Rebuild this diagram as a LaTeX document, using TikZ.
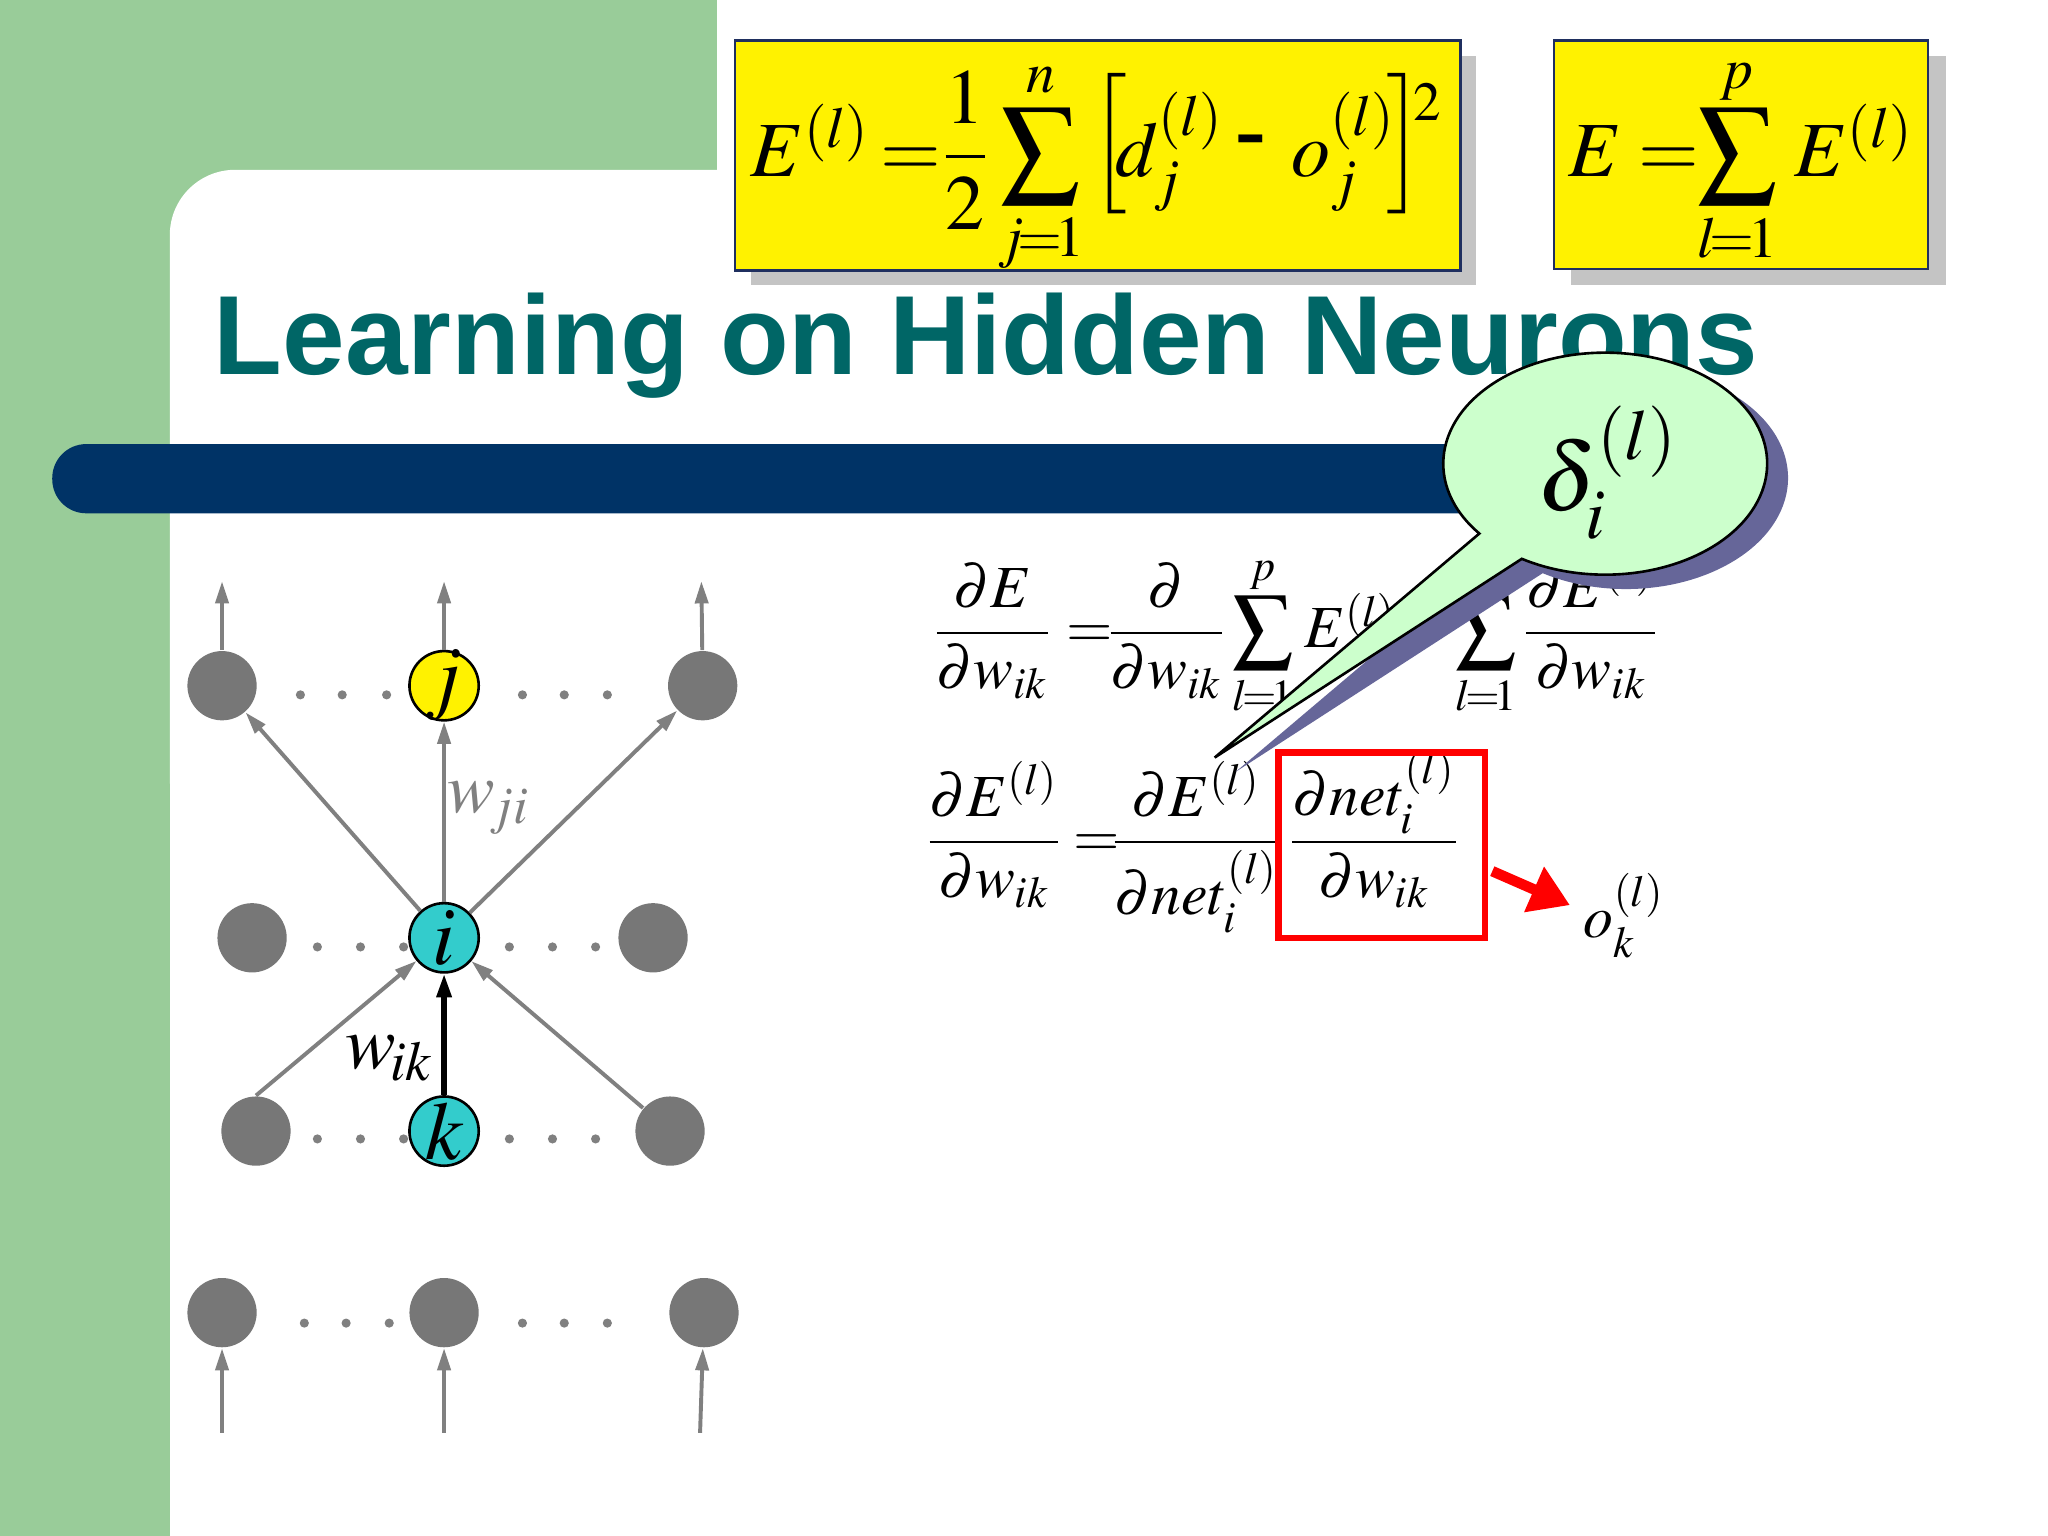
\documentclass[tikz,border=0pt]{standalone}
\usepackage{mathptmx}
\usepackage[no-math]{fontspec}
\newfontfamily\titlefont{Liberation Sans}
\newfontfamily\hyphfont{Liberation Serif}
\usetikzlibrary{arrows.meta,calc}
\definecolor{bggreen}{HTML}{99CC99}
\definecolor{barnavy}{HTML}{003366}
\definecolor{titleteal}{HTML}{006666}
\definecolor{bubgreen}{HTML}{CCFFCC}
\definecolor{bubshadow}{HTML}{666699}
\definecolor{nodegray}{HTML}{777777}
\definecolor{linegray}{HTML}{808080}
\definecolor{icyan}{HTML}{33CCCC}
\definecolor{boxborder}{HTML}{1F2F5F}
\definecolor{shadowgray}{HTML}{C4C4C4}
\tikzset{
  gnode/.style={circle, fill=nodegray, minimum size=0.53cm, inner sep=0},
  cnode/.style={circle, fill=icyan, draw=black, line width=0.02cm, minimum size=0.53cm, inner sep=0},
  ynode/.style={cnode, fill=yellow},
  nlabel/.style={font=\fontsize{18}{20}\selectfont, inner sep=0},
  garrow/.style={draw=linegray, line width=0.03cm, -{Triangle[length=0.17cm,width=0.1cm]}},
  karrow/.style={draw=black, line width=0.04cm, -{Triangle[length=0.18cm,width=0.11cm]}},
  ybox/.style={draw=boxborder, line width=0.018cm, fill=yellow, inner sep=0},
  bt/.style={inner sep=0, anchor=base, font=\fontsize{17}{20}\selectfont},
  et/.style={inner sep=0, anchor=base, font=\fontsize{13}{16}\selectfont},
}
\begin{document}
\begin{tikzpicture}[x=0.01cm,y=-0.01cm]
\useasboundingbox (0,0) rectangle (1568,1176);
% background
\fill[white] (0,0) rectangle (1568,1176);
\fill[bggreen] (0,0) rectangle (549,130);
\fill[bggreen] (0,0) rectangle (130,1176);
\fill[bggreen] (130,130) rectangle (250,250);
\fill[white] (130,600) [rounded corners=0.5cm] -- (130,130) -- (600,130) [sharp corners] -- (600,600) -- cycle;
% box shadows
\fill[shadowgray] (575,43) rectangle (1130,218);
\fill[shadowgray] (1203,43) rectangle (1490,218);
% title
\node[anchor=base west, inner sep=0, text=titleteal, font=\titlefont\bfseries\fontsize{24.5}{28}\selectfont] (title) at (163,287) {Learning on Hidden Neurons};
% bar
\fill[barnavy, rounded corners=0.26cm] (40,340) rectangle (1170,393);
% yellow box 1
\node[ybox, minimum width=5.55cm, minimum height=1.76cm] (box1) at (840.5,119) {};
\node[bt, anchor=base west] (b1e) at (574,135) {$E^{(l)}$};
\node[bt] (b1eq) at (697,135) {$=$};
\node[bt] (b1half) at (739,135) {$\displaystyle\frac{1}{2}$};
\node[bt] (b1sum) at (797,135) {$\displaystyle\sum_{j\!=\!1}^{n}$};
\node[bt, anchor=center] (b1lb) at (849,110) {$\Bigl[$};
\node[bt, anchor=base west] (b1d) at (853,135) {$d_j^{(l)}$};
\node[bt, anchor=center, font=\hyphfont\bfseries\fontsize{20}{22}\selectfont] (b1minus) at (958,113) {-};
\node[bt, anchor=base west] (b1o) at (988,135) {$o_j^{(l)}$};
\node[bt, anchor=center] (b1rb) at (1076,110) {$\Bigr]$};
\node[bt, font=\fontsize{12}{14}\selectfont] (b1sq) at (1093,92) {$2$};
% yellow box 2
\node[ybox, minimum width=2.86cm, minimum height=1.75cm] (box2) at (1333,118.5) {};
\node[bt, anchor=base west] (b2e) at (1200,135) {$E$};
\node[bt] (b2eq) at (1278,135) {$=$};
\node[bt] (b2sum) at (1330,135) {$\displaystyle\sum_{l\!=\!1}^{p}$};
\node[bt, anchor=base west] (b2el) at (1373,135) {$E^{(l)}$};
% network nodes
\node[gnode] (t1) at (170,525) {};
\node[ynode, label={[nlabel]center:$j$}] (j) at (340,525) {};
\node[gnode] (t3) at (538,525) {};
\node[gnode] (m1) at (193,718) {};
\node[cnode, label={[nlabel]center:$i$}] (i) at (340,718) {};
\node[gnode] (m3) at (500,718) {};
\node[gnode] (bl) at (196,866) {};
\node[cnode, label={[nlabel]center:$k$}] (k) at (340,866) {};
\node[gnode] (br) at (513,866) {};
\node[gnode] (n1) at (170,1005) {};
\node[gnode] (n2) at (340,1005) {};
\node[gnode] (n3) at (539,1005) {};
% dots
\foreach \x in {230,262,296,400,432,465} \fill[linegray] (\x,532) circle (0.035cm);
\foreach \x in {243,276,309,390,423,456} \fill[linegray] (\x,725) circle (0.035cm);
\foreach \x in {243,276,309,390,423,456} \fill[linegray] (\x,872) circle (0.035cm);
\foreach \x in {233,265,298,400,432,465} \fill[linegray] (\x,1013) circle (0.035cm);
% outputs and inputs
\coordinate (o1) at (170,445);
\coordinate (o2) at (340,445);
\coordinate (o3) at (537,445);
\coordinate (in1) at (170,1097);
\coordinate (in2) at (340,1097);
\coordinate (in3) at (536,1097);
\draw[garrow] (t1) -- (o1);
\draw[garrow] (j) -- (o2);
\draw[garrow] (t3) -- (o3);
\draw[garrow] (in1) -- (n1);
\draw[garrow] (in2) -- (n2);
\draw[garrow] (in3) -- (n3);
% connections
\draw[garrow] (i) -- (t1);
\draw[garrow] (i) -- (j);
\draw[garrow] (i) -- (t3);
\draw[garrow] (bl.north) -- (i);
\draw[garrow] (br) -- (i);
\draw[karrow] (k) -- (i);
\node[anchor=base west, inner sep=0, text=linegray, font=\fontsize{15.5}{18}\selectfont] (wji) at (342,622) {$w_{\!ji}$};
\node[anchor=base west, inner sep=0, font=\fontsize{16.5}{20}\selectfont] (wik) at (264,818) {$w_{\!ik}$};
% equation line 1
\node[et] (f1) at (760,496) {$\displaystyle\frac{\partial E}{\partial w_{ik}}$};
\node[et] (eqa) at (834,496) {$=$};
\node[et] (f2) at (893,496) {$\displaystyle\frac{\partial}{\partial w_{ik}}$};
\node[et] (s1) at (967,496) {$\displaystyle\sum_{l\!=\!1}^{p}$};
\node[et, anchor=base west] (e1) at (998,496) {$E^{(l)}$};
\node[et] (eqb) at (1088,496) {$=$};
\node[et] (s2) at (1138,496) {$\displaystyle\sum_{l\!=\!1}^{p}$};
\node[et] (f3) at (1218,496) {$\displaystyle\frac{\partial E^{(l)}}{\partial w_{ik}}$};
% equation line 2
\node[et] (g1) at (761,656) {$\displaystyle\frac{\partial E^{(l)}}{\partial w_{ik}}$};
\node[et] (eqc) at (840,656) {$=$};
\node[et] (g2) at (916,656) {$\displaystyle\frac{\partial E^{(l)}}{\partial net_i^{(l)}}$};
\node[et] (g3) at (1052,656) {$\displaystyle\frac{\partial net_i^{(l)}}{\partial w_{ik}}$};
\node[draw=red, line width=0.05cm, minimum width=1.58cm, minimum height=1.42cm, inner sep=0] (rb) at (1058,647) {};
\node[et, anchor=base west] (ok) at (1212,718) {$o_k^{(l)}$};
\coordinate (rbs) at ($(rb.east)+(3,20)$);
\coordinate (rbt) at (1202,693);
\draw[red, line width=0.08cm, -{Triangle[length=0.3cm,width=0.36cm]}] (rbs) -- (rbt);
% speech bubble
\fill[bubshadow] (946,591) -- ($(1245,366)+(141:124 and 85)$) arc[start angle=141,end angle=481,x radius=124,y radius=85] -- cycle;
\filldraw[fill=bubgreen, draw=black, line width=0.02cm] (930,580) -- ($(1229,355)+(141:124 and 85)$) arc[start angle=141,end angle=481,x radius=124,y radius=85] -- cycle;
\node[inner sep=0, font=\fontsize{21}{24}\selectfont] (delta) at (1231,362) {$\displaystyle\delta_i^{(l)}$};
\end{tikzpicture}
\end{document}
